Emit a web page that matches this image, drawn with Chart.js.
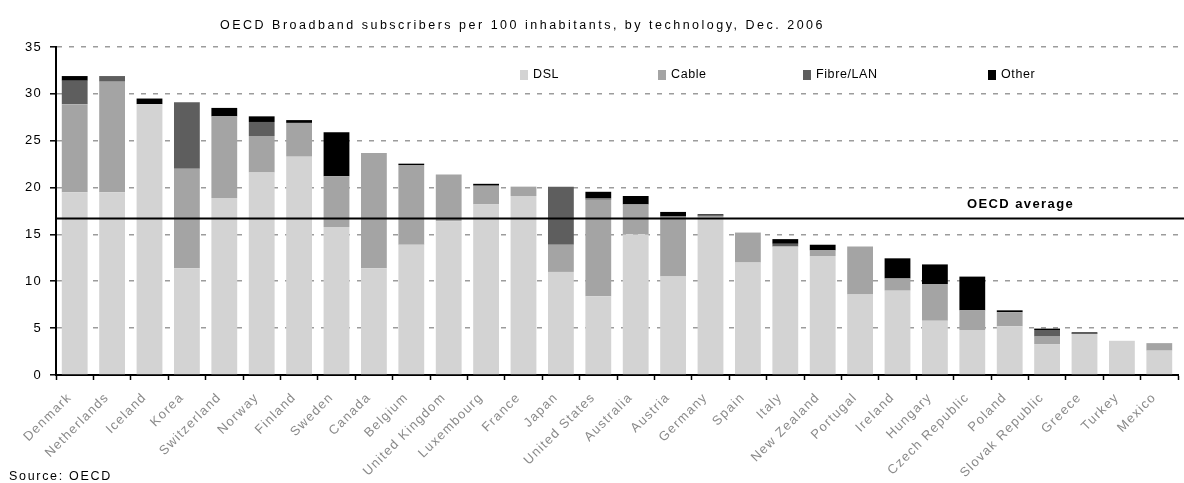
<!DOCTYPE html>
<html>
<head>
<meta charset="utf-8">
<script src="https://cdn.jsdelivr.net/npm/chart.js@4/dist/chart.umd.min.js"></script>
<style>
  html, body { margin: 0; padding: 0; background: #fff; }
  #wrap { position: relative; width: 1184px; height: 483px; }
  .txt { position: absolute; font-family: "Liberation Sans", Arial, sans-serif; color: #000; white-space: nowrap; line-height: 1; }
  #title { left: 220px; top: 19px; font-size: 12.5px; }
  #source { left: 9px; top: 470px; font-size: 12.5px; }
</style>
</head>
<body>
<div id="wrap">
  <canvas id="c" width="1184" height="483"></canvas>
  <div id="title" class="txt">OECD Broadband subscribers per 100 inhabitants, by technology, Dec. 2006</div>
  <div id="source" class="txt">Source: OECD</div>
</div>
<script>
const countries = ['Denmark','Netherlands','Iceland','Korea','Switzerland','Norway','Finland','Sweden','Canada','Belgium','United Kingdom','Luxembourg','France','Japan','United States','Australia','Austria','Germany','Spain','Italy','New Zealand','Portugal','Ireland','Hungary','Czech Republic','Poland','Slovak Republic','Greece','Turkey','Mexico'];
const dsl   = [19.5,19.5,28.9,11.4,18.9,21.6,23.3,15.8,11.4,13.9,16.4,18.2,19.1,11.0,8.4,15.0,10.5,16.8,12.0,13.7,12.7,8.6,9.0,5.8,4.8,5.2,3.3,4.4,3.65,2.6];
const cable = [9.4,11.8,0,10.6,8.7,3.9,3.6,5.4,12.3,8.5,5.0,2.0,1.0,2.9,10.3,3.2,6.4,0.2,3.2,0,0.6,5.1,1.3,3.9,2.1,1.5,0.8,0,0,0.8];
const fibre = [2.5,0.6,0,7.1,0,1.5,0,0,0,0,0,0,0,6.2,0.15,0,0,0,0,0.3,0,0,0,0,0,0,0.7,0,0,0];
const other = [0.5,0,0.6,0,0.9,0.6,0.3,4.7,0,0.15,0,0.2,0,0,0.7,0.9,0.5,0.15,0,0.5,0.6,0,2.15,2.1,3.6,0.2,0.15,0.15,0,0];
const seriesNames = ['DSL','Cable','Fibre/LAN','Other'];
const seriesColors = ['#d3d3d3','#a4a4a4','#5e5e5e','#000000'];
const oecdAverage = 16.7;
const yTicks = [0,5,10,15,20,25,30,35];

const FONT = '"Liberation Sans", Arial, sans-serif';

function spreadTo(el, target) {
  const w = el.getBoundingClientRect().width;
  const n = el.textContent.length;
  el.style.letterSpacing = ((target - w) / n) + 'px';
}
spreadTo(document.getElementById('title'), 605);
spreadTo(document.getElementById('source'), 103);

const spacingPlugin = {
  id: 'spacing',
  beforeDraw(chart) { chart.ctx.letterSpacing = '1.3px'; },
  afterDraw(chart) { chart.ctx.letterSpacing = '0px'; }
};

const overlayPlugin = {
  id: 'overlay',
  afterDatasetsDraw(chart) {
    const ctx = chart.ctx;
    const area = chart.chartArea;
    const y = chart.scales.y.getPixelForValue(oecdAverage);
    ctx.save();
    ctx.strokeStyle = '#000';
    ctx.lineWidth = 2;
    ctx.beginPath();
    ctx.moveTo(area.left, y);
    ctx.lineTo(area.right + 6, y);
    ctx.stroke();
    ctx.fillStyle = '#000';
    ctx.font = 'bold 13px ' + FONT;
    ctx.textBaseline = 'middle';
    ctx.textAlign = 'left';
    ctx.letterSpacing = '1.4px';
    ctx.fillText('OECD average', 967, y - 14);
    // legend
    const lx = [520, 658, 803, 988];
    const ly = 75;
    ctx.font = '12.5px ' + FONT;
    ctx.letterSpacing = '0.6px';
    for (let i = 0; i < seriesNames.length; i++) {
      ctx.fillStyle = seriesColors[i];
      ctx.fillRect(lx[i], ly - 5, 8, 10);
      ctx.fillStyle = '#000';
      ctx.fillText(seriesNames[i], lx[i] + 13, ly);
    }
    ctx.restore();
  }
};

const datasets = [dsl, cable, fibre, other].map((d, i) => ({
  label: seriesNames[i],
  data: d,
  backgroundColor: seriesColors[i],
  borderWidth: 0,
  barPercentage: 0.69,
  categoryPercentage: 1.0,
  stack: 's'
}));

new Chart(document.getElementById('c'), {
  type: 'bar',
  data: { labels: countries, datasets },
  options: {
    responsive: false,
    animation: false,
    layout: { padding: { left: 0, right: 6, top: 47, bottom: 0 } },
    plugins: { legend: { display: false }, title: { display: false }, tooltip: { enabled: false } },
    scales: {
      x: {
        stacked: true,
        afterFit(s) { s.height = 108; },
        grid: { display: true, drawOnChartArea: false, offset: true, tickLength: 5, tickColor: '#000', tickWidth: 1.5 },
        border: { display: true, color: '#000', width: 2 },
        ticks: { autoSkip: false, maxRotation: 45, minRotation: 45, color: '#8a8a8a', font: { family: FONT, size: 13 }, padding: 10, labelOffset: -5 }
      },
      y: {
        stacked: true,
        min: 0, max: 35,
        afterFit(s) { s.width = 56; },
        afterBuildTicks(s) { s.ticks = yTicks.map(v => ({ value: v })); },
        grid: {
          color: c => (c.tick && c.tick.value === 0) ? 'rgba(0,0,0,0)' : '#9c9c9c',
          lineWidth: 1.6,
          tickLength: 6, tickColor: '#000', tickWidth: 1.5, tickBorderDash: []
        },
        border: { display: true, color: '#000', width: 2, dash: [5, 7] },
        ticks: { color: '#000', font: { family: FONT, size: 13 }, padding: 8 }
      }
    }
  },
  plugins: [spacingPlugin, overlayPlugin]
});
</script>
</body>
</html>
